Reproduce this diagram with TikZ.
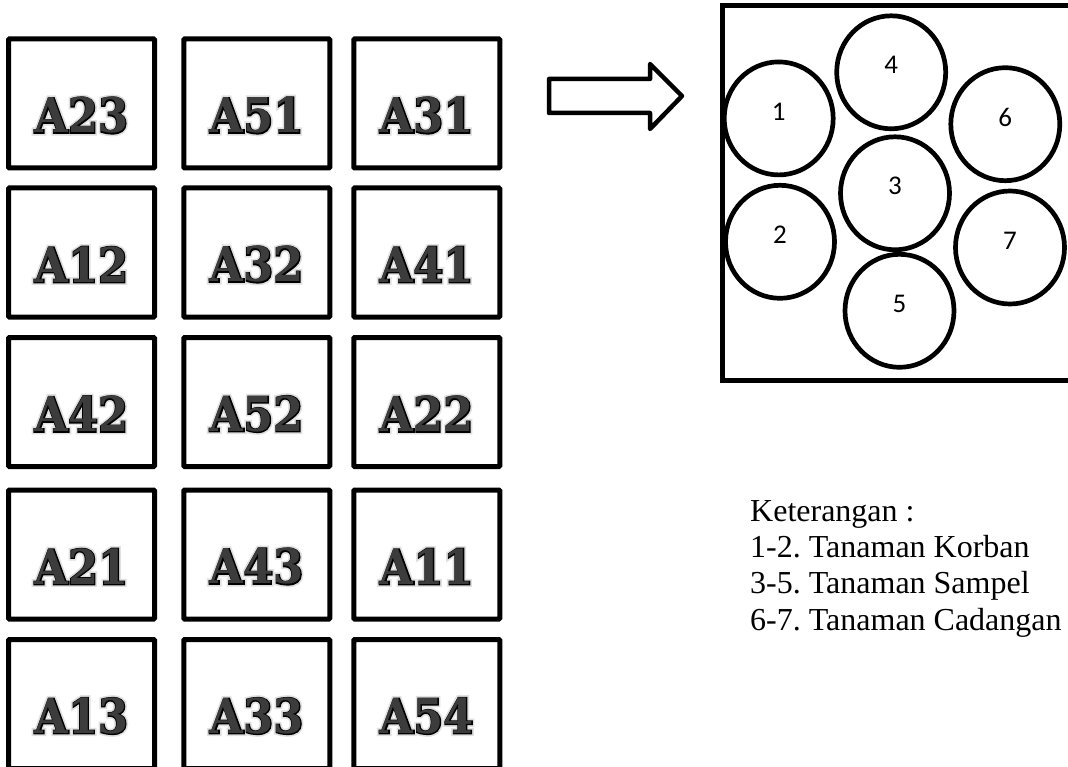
\documentclass[tikz,border=0pt]{standalone}
\usepackage{fontspec}
\setmainfont{Liberation Serif}
\newfontfamily\platefont[FakeStretch=0.9]{DejaVu Serif}
\newfontfamily\plateline[FakeStretch=0.9, FakeBold=4]{DejaVu Serif}
\newfontfamily\plateglow[FakeStretch=0.9, FakeBold=11]{DejaVu Serif}
\newfontfamily\numfont{Carlito}
\usetikzlibrary{shapes.geometric}
\definecolor{labelgray}{HTML}{3C3C3C}
\frenchspacing

% plot code: soft grey glow, black outline, dark grey fill
\newcommand\platlabel[1]{%
  \rlap{\plateglow\bfseries\color{black!12}#1}%
  \rlap{\plateline\bfseries\color{black}#1}%
  {\platefont\bfseries\color{labelgray}#1}}

\tikzset{
  plotbox/.style={draw, line width=5pt, rounded corners=1pt,
    minimum width=146pt, minimum height=129pt, inner sep=0pt},
  plotcode/.style={font=\fontsize{48}{56}\selectfont, yshift=-12pt},
  plant/.style={draw, ellipse, line width=4.7pt, minimum width=109pt,
    minimum height=113pt, inner sep=0pt},
  plantno/.style={font=\numfont\fontsize{27}{30}\selectfont, yshift=7pt},
  legend/.style={anchor=base west, inner sep=0pt,
    font=\fontsize{32}{36}\selectfont},
}

\begin{document}
\begin{tikzpicture}[x=1pt, y=-1pt]
\useasboundingbox (0,0) rectangle (1068,767);
\fill[white] (0,0) rectangle (1068,767);
\clip (0,0) rectangle (1068,767);

% field layout: five rows of three plots
\foreach \code [count=\i from 0] in {A23,A51,A31,A12,A32,A41,A42,A52,A22,A21,A43,A11,A13,A33,A54} {
  \pgfmathtruncatemacro\row{int(\i/3)}
  \pgfmathtruncatemacro\col{mod(\i,3)}
  \pgfmathsetmacro\cx{{81.5,256.75,426.75}[\col]}
  \pgfmathsetmacro\cy{{103.5,252.5,402,554.5,704}[\row]}
  \node[plotbox, label={[plotcode]center:\platlabel{\code}}] (p\code) at (\cx,\cy) {};
}

% block arrow towards the plot detail
\draw[line width=4.5pt, line join=round]
  (549,79) -- (650,79) -- (650,64) -- (682,96) -- (650,129)
  -- (650,113) -- (549,113) -- cycle;

% one plot with its seven plants
\draw[line width=5pt] (1069.5,5.5) -- (722.5,5.5) -- (722.5,380.5) -- (1069.5,380.5);
\node[plant, label={[plantno]center:1}] (t1) at (778.7,118.4) {};
\node[plant, label={[plantno]center:2}] (t2) at (780,241.8) {};
\node[plant, label={[plantno]center:3}] (t3) at (895,193.3) {};
\node[plant, label={[plantno]center:4}] (t4) at (891.2,72.3) {};
\node[plant, label={[plantno]center:5}] (t5) at (899.5,310.8) {};
\node[plant, label={[plantno]center:6}] (t6) at (1005.3,124.2) {};
\node[plant, label={[plantno]center:7}] (t7) at (1010,247.5) {};

% legend
\node[legend] (k0) at (750,521) {Keterangan :};
\node[legend] (k1) at (750,557) {1-2. Tanaman Korban};
\node[legend] (k2) at (750,593.5) {3-5. Tanaman Sampel};
\node[legend] (k3) at (750,630) {6-7. Tanaman Cadangan};
\end{tikzpicture}
\end{document}
